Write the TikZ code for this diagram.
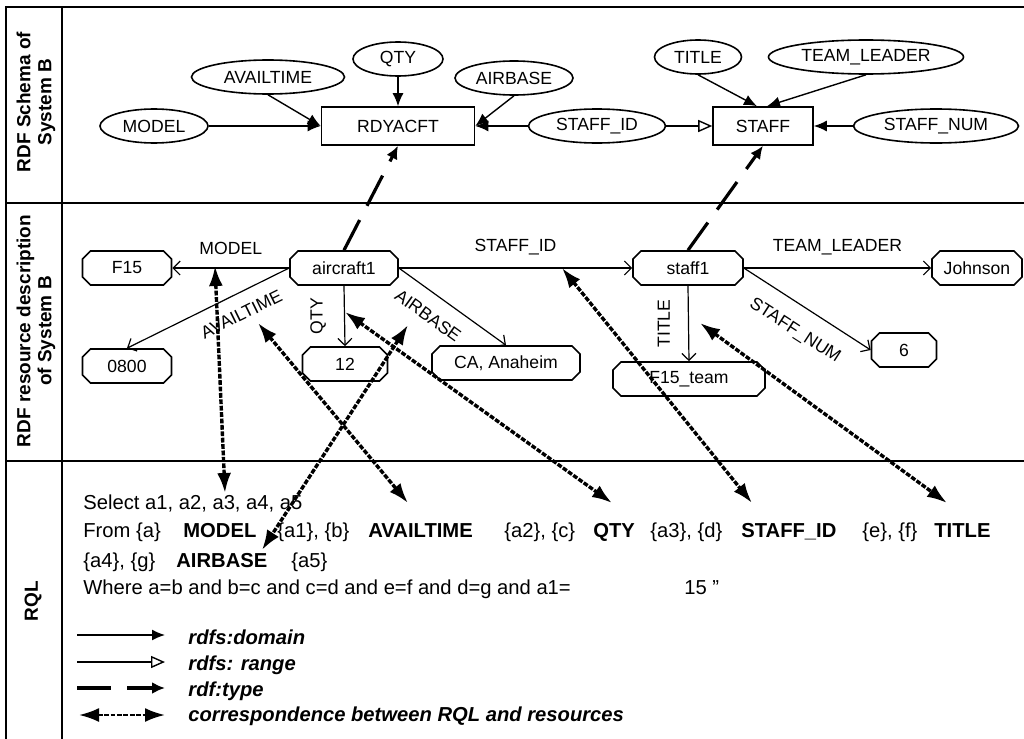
\documentclass[tikz,border=0pt]{standalone}
\usepackage{fontspec}
\setmainfont{Liberation Sans}
\usetikzlibrary{arrows.meta,shapes.geometric,shapes.misc}

\tikzset{
  lbl/.style={font=\fontsize{8.8}{10}\selectfont},
  prop/.style={ellipse, draw, line width=0.8pt, minimum height=17pt, inner sep=0pt, lbl},
  cls/.style={rectangle, draw, line width=0.8pt, minimum height=19pt, inner sep=0pt, lbl},
  res/.style={chamfered rectangle, chamfered rectangle xsep=2pt, chamfered rectangle ysep=2pt,
    draw, line width=0.8pt, minimum height=17pt, inner sep=0pt, lbl},
  hdr/.style={rotate=90, align=center, font=\bfseries\fontsize{9.5}{10.5}\selectfont},
  rql/.style={anchor=base west, inner sep=0pt, font=\fontsize{10.1}{12}\selectfont},
  key/.style={rql, font=\bfseries\itshape\fontsize{10.1}{12}\selectfont},
  frame/.style={line width=1pt},
  dom/.style={line width=0.7pt, -{Latex[length=6.5pt,width=5.5pt]}},
  rng/.style={line width=0.7pt, -{Triangle[open,length=7pt,width=6pt]}},
  rel/.style={line width=0.6pt, -{Straight Barb[length=3.5pt,width=7pt]}},
  typ/.style={line width=1.6pt, dash pattern=on 17pt off 8pt, -{Latex[length=6.5pt,width=6pt]}},
  corr/.style={line width=1.7pt, dash pattern=on 2.4pt off 0.8pt,
    {Latex[length=10pt,width=7pt]}-{Latex[length=10pt,width=7pt]}}
}

\begin{document}
\begin{tikzpicture}[x=0.5pt, y=-0.5pt]
  \useasboundingbox (0,0) rectangle (1024,739);

  % frame of the three rows
  \draw[frame] (1024,7) -- (6,7) -- (6,739);
  \draw[frame] (62,7) -- (62,739);
  \draw[frame] (6,203) -- (1024,203);
  \draw[frame] (6,461) -- (1024,461);

  \node[hdr] (h1) at (36,102) {RDF Schema of\\System B};
  \node[hdr] (h2) at (36,331) {RDF resource description\\of System B};
  \node[hdr] (h3) at (33,601) {RQL};

  % schema
  \node[prop, minimum width=54pt]   (model)    at (154,126) {MODEL};
  \node[prop, minimum width=76.5pt] (avail)    at (268,77)  {AVAILTIME};
  \node[prop, minimum width=45pt]   (qty)      at (398,59)  {QTY};
  \node[prop, minimum width=59pt]   (airbase)  at (514,78)  {AIRBASE};
  \node[cls,  minimum width=76.5pt] (rdyacft)  at (398,126) {RDYACFT};
  \node[prop, minimum width=68.5pt] (staffid)  at (597,126) {STAFF\_ID};
  \node[cls,  minimum width=50pt]   (staff)    at (763,126) {STAFF};
  \node[prop, minimum width=43.5pt] (title)    at (698,57)  {TITLE};
  \node[prop, minimum width=97.5pt] (leader)   at (866,57)  {TEAM\_LEADER};
  \node[prop, minimum width=82.5pt] (staffnum) at (936,126) {STAFF\_NUM};

  \draw[dom] (model) -- (rdyacft.west);
  \draw[dom] (avail.south) -- (rdyacft.west);
  \draw[dom] (qty) -- (rdyacft);
  \draw[dom] (airbase.south) -- (rdyacft.east);
  \draw[dom] (staffid) -- (rdyacft);
  \draw[rng] (staffid) -- (staff);
  \draw[dom] (title.south) -- ([xshift=-3pt]staff.north);
  \draw[dom] (leader.south) -- ([xshift=2pt]staff.north);
  \draw[dom] (staffnum) -- (staff);

  % resources
  \node[res, minimum width=44.5pt] (f15)      at (127,268) {F15};
  \node[res, minimum width=54pt]   (aircraft) at (344,268) {aircraft1};
  \node[res, minimum width=55pt]   (staff1)   at (688,268) {staff1};
  \node[res, minimum width=45pt]   (johnson)  at (977,268) {Johnson};
  \node[res, minimum width=44.5pt] (t0800)    at (127,366) {0800};
  \node[res, minimum width=42.5pt] (twelve)   at (345,364) {12};
  \node[res, minimum width=74pt]   (anaheim)  at (506,363) {CA, Anaheim};
  \node[res, minimum width=76pt]   (team)     at (689,379) {F15\_team};
  \node[res, minimum width=32.5pt] (six)      at (904,350) {6};

  \begin{scope}[every edge/.style={draw, rel}, every node/.style={lbl}]
    \path (aircraft.west) edge node[above=3pt] (lmodel) {MODEL} (f15.east);
    \path (aircraft.west) edge node[pos=0.35, sloped, below=3.5pt] (lavail) {AVAILTIME} (t0800.north);
    \path (aircraft.south) edge node[rotate=90, anchor=south, inner ysep=9pt] (lqty) {QTY} (twelve.north);
    \path (aircraft.east) edge node[pos=0.39, sloped, below=4pt] (lair) {AIRBASE} (anaheim.north);
    \path (aircraft.east) edge node[above=3pt] (lstaffid) {STAFF\_ID} (staff1.west);
    \path (staff1.east) edge node[above=3pt] (lleader) {TEAM\_LEADER} (johnson.west);
    \path (staff1.south) edge node[rotate=90, anchor=south, inner ysep=9pt] (ltitle) {TITLE} (team.north);
    \path (staff1.east) edge node[pos=0.51, sloped, below=5pt] (lnum) {STAFF\_NUM} (six.west);
  \end{scope}

  % rdf:type
  \draw[typ] (aircraft.north) -- (rdyacft.south);
  \draw[typ] (staff1.north) -- (staff.south);

  % query
  \node[rql] (sel) at (83,509) {Select a1, a2, a3, a4, a5};
  \node[rql] (fr1) at (83,537) {From \{a\}};
  \node[rql, font=\bfseries\fontsize{10.1}{12}\selectfont] (fmodel) at (183,537) {MODEL};
  \node[rql] (fr2) at (277,537) {\{a1\}, \{b\}};
  \node[rql, font=\bfseries\fontsize{10.1}{12}\selectfont] (favail) at (368,537) {AVAILTIME};
  \node[rql] (fr3) at (504,537) {\{a2\}, \{c\}};
  \node[rql, font=\bfseries\fontsize{10.1}{12}\selectfont] (fqty) at (593,537) {QTY};
  \node[rql] (fr4) at (650,537) {\{a3\}, \{d\}};
  \node[rql, font=\bfseries\fontsize{10.1}{12}\selectfont] (fstaffid) at (741,537) {STAFF\_ID};
  \node[rql] (fr5) at (862,537) {\{e\}, \{f\}};
  \node[rql, font=\bfseries\fontsize{10.1}{12}\selectfont] (ftitle) at (934,537) {TITLE};
  \node[rql] (fr6) at (83,567) {\{a4\}, \{g\}};
  \node[rql, font=\bfseries\fontsize{10.1}{12}\selectfont] (fair) at (176,567) {AIRBASE};
  \node[rql] (fr7) at (291,567) {\{a5\}};
  \node[rql] (wh1) at (83,594) {Where a=b and b=c and c=d and e=f and d=g and a1=};
  \node[rql] (wh2) at (684,594) {15 ”};

  % legend
  \coordinate (k1a) at (77,635);  \coordinate (k1b) at (165,635);
  \coordinate (k2a) at (77,662);  \coordinate (k2b) at (165,662);
  \coordinate (k3a) at (77,688);  \coordinate (k3b) at (165,688);
  \coordinate (k4a) at (79,715);  \coordinate (k4b) at (165,715);
  \draw[dom] (k1a) -- (k1b);
  \draw[rng] (k2a) -- (k2b);
  \draw[typ] (k3a) -- (k3b);
  \draw[corr, line width=1.2pt] (k4a) -- (k4b);
  \node[key] (kdom)  at (188,644) {rdfs:domain};
  \node[key] (krng)  at (188,670) {rdfs: range};
  \node[key] (ktyp)  at (188,696) {rdf:type};
  \node[key] (kcorr) at (188,721) {correspondence between RQL and resources};

  % correspondence between query and resources
  \coordinate (m1) at (215,266); \coordinate (q1) at (225,493);
  \coordinate (m2) at (258,323); \coordinate (q2) at (408,503);
  \coordinate (m3) at (345,312); \coordinate (q3) at (612,503);
  \coordinate (m4) at (408,325); \coordinate (q4) at (262,550);
  \coordinate (m5) at (562,268); \coordinate (q5) at (752,503);
  \coordinate (m6) at (700,323); \coordinate (q6) at (947,503);
  \foreach \i in {1,...,6}
    \draw[corr] (m\i) -- (q\i);

\end{tikzpicture}
\end{document}
